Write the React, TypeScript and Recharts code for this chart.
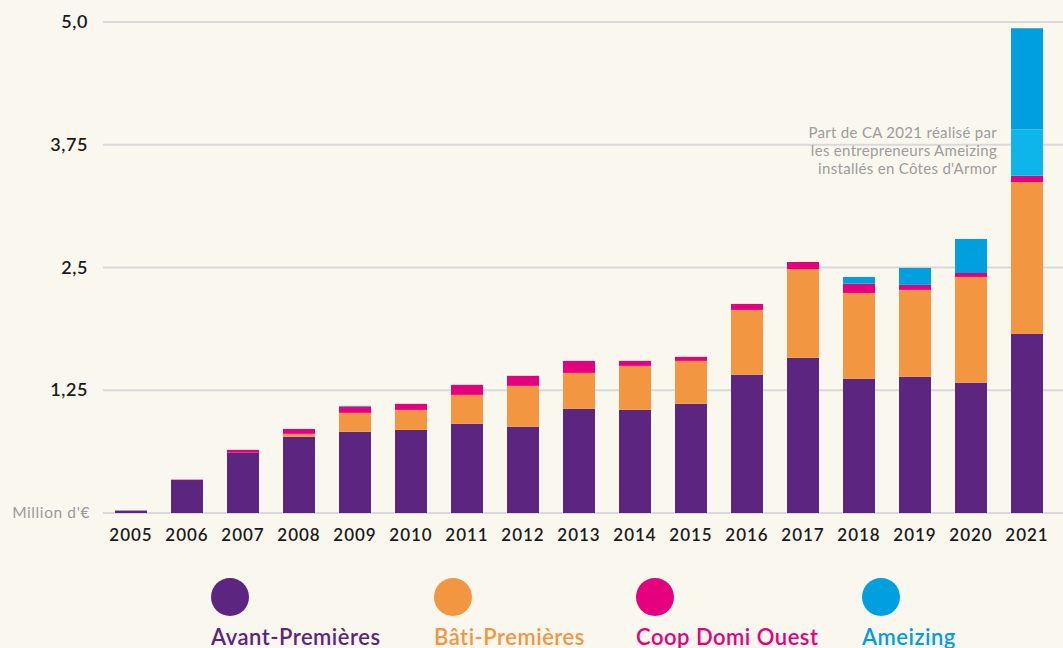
import { BarChart, Bar, XAxis, YAxis, CartesianGrid } from 'recharts';

const years = ['2005', '2006', '2007', '2008', '2009', '2010', '2011', '2012', '2013', '2014', '2015', '2016', '2017', '2018', '2019', '2020', '2021'];
const avantPremieres = [0.025, 0.335, 0.616, 0.776, 0.827, 0.847, 0.908, 0.878, 1.061, 1.051, 1.112, 1.407, 1.58, 1.366, 1.387, 1.326, 1.824];
const batiPremieres = [0, 0, 0, 0.03, 0.193, 0.203, 0.295, 0.417, 0.366, 0.447, 0.437, 0.661, 0.905, 0.875, 0.885, 1.078, 1.546];
const coopDomiOuest = [0, 0.005, 0.027, 0.05, 0.064, 0.061, 0.102, 0.102, 0.122, 0.051, 0.041, 0.061, 0.071, 0.095, 0.051, 0.041, 0.064];
const ameizingCotesArmor = [0, 0, 0, 0, 0, 0, 0, 0, 0, 0, 0, 0, 0, 0, 0, 0, 0.475];
const ameizing = [0, 0, 0, 0, 0.007, 0, 0, 0, 0, 0, 0, 0, 0, 0.068, 0.173, 0.346, 1.027];
const yTicks = [0, 1.25, 2.5, 3.75, 5];
const yTickLabels = ["Million d'€", '1,25', '2,5', '3,75', '5,0'];

const legendItems = [
  { name: 'Avant-Premières', color: '#5c2580' },
  { name: 'Bâti-Premières', color: '#f39641' },
  { name: 'Coop Domi Ouest', color: '#e5007d' },
  { name: 'Ameizing', color: '#009fe0' },
];
const legendLefts = [211, 434, 636, 862];

const data = years.map((year, i) => ({
  year,
  avant: avantPremieres[i],
  bati: batiPremieres[i],
  coop: coopDomiOuest[i],
  ameizingCotes: ameizingCotesArmor[i],
  ameizing: ameizing[i],
}));

const BG = '#faf7ef';
const FONT = 'Lato, "Open Sans", sans-serif';

function YTick({ x, y, payload }: any) {
  const idx = yTicks.indexOf(payload.value);
  const isZero = payload.value === 0;
  return (
    <text
      x={isZero ? x + 2 : x}
      y={y}
      dy={isZero ? 5 : 6}
      textAnchor="end"
      fontFamily={FONT}
      fontSize={isZero ? 15.5 : 18}
      fontWeight={isZero ? 400 : 600}
      fill={isZero ? '#9a9a9a' : '#1a1a1a'}
      letterSpacing={0.6}
    >
      {yTickLabels[idx]}
    </text>
  );
}

function XTick({ x, y, payload }: any) {
  return (
    <text x={x} y={y} dy={20} textAnchor="middle" fontFamily={FONT} fontSize={17} fontWeight={600} fill="#1a1a1a" letterSpacing={1}>
      {payload.value}
    </text>
  );
}

export default function App() {
  return (
    <div style={{ position: 'fixed', left: 0, top: 0, width: 1063, height: 648, background: BG, overflow: 'hidden' }}>
      <BarChart width={1063} height={560} data={data} margin={{ top: 22, right: 0, left: 0, bottom: 7 }} barSize={32}>
        <CartesianGrid vertical={false} stroke="#d9d9d9" strokeWidth={2} />
        <XAxis dataKey="year" axisLine={false} tickLine={false} height={40} tick={<XTick />} padding={{ left: 0, right: 8 }} interval={0} />
        <YAxis
          domain={[0, 5]}
          ticks={yTicks}
          width={103}
          axisLine={false}
          tickLine={false}
          tickSize={0}
          tickMargin={15}
          tick={<YTick />}
        />
        <Bar dataKey="avant" stackId="a" fill="#5c2580" isAnimationActive={false} />
        <Bar dataKey="bati" stackId="a" fill="#f39641" isAnimationActive={false} />
        <Bar dataKey="coop" stackId="a" fill="#e5007d" isAnimationActive={false} />
        <Bar dataKey="ameizingCotes" stackId="a" fill="#0db5ea" isAnimationActive={false} />
        <Bar dataKey="ameizing" stackId="a" fill="#009fe0" isAnimationActive={false} />
      </BarChart>

      <div
        style={{
          position: 'absolute',
          right: 66,
          top: 123,
          textAlign: 'right',
          fontFamily: FONT,
          fontSize: 15,
          lineHeight: '18px',
          color: '#9c9c9c',
          letterSpacing: 0.3,
        }}
      >
        Part de CA 2021 réalisé par
        <br />
        les entrepreneurs Ameizing
        <br />
        installés en Côtes d'Armor
      </div>

      {legendItems.map((item, i) => (
        <div key={item.name} style={{ position: 'absolute', left: legendLefts[i], top: 578 }}>
          <div style={{ width: 38, height: 38, borderRadius: '50%', background: item.color }} />
          <div style={{ marginTop: 9, fontFamily: FONT, fontSize: 22, fontWeight: 600, color: item.color, whiteSpace: 'nowrap', lineHeight: '24px', letterSpacing: 0.5 }}>
            {item.name}
          </div>
        </div>
      ))}
    </div>
  );
}
